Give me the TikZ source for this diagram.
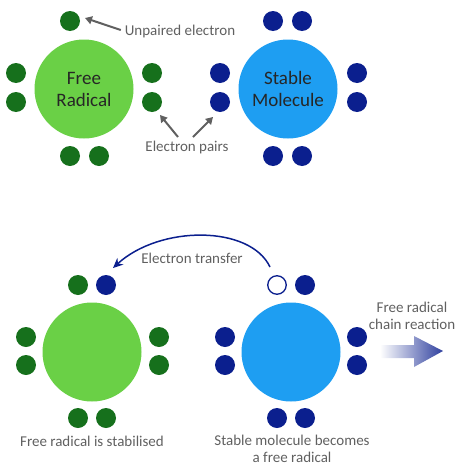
\documentclass[tikz,border=0pt]{standalone}
\usepackage{fontspec}
\setmainfont{Carlito}
\usetikzlibrary{arrows.meta}
\definecolor{dgreen}{HTML}{16701C}
\definecolor{lgreen}{HTML}{6AD046}
\definecolor{lblue}{HTML}{1E9EF2}
\definecolor{navy}{HTML}{0B1F8E}
\definecolor{txtgray}{HTML}{606060}
\tikzset{
  gdot/.style={circle,fill=dgreen,minimum size=20pt,inner sep=0pt},
  bdot/.style={circle,fill=navy,minimum size=20pt,inner sep=0pt},
  hdot/.style={circle,draw=navy,line width=1.3pt,fill=white,minimum size=18.5pt,inner sep=0pt},
  gbig/.style={circle,fill=lgreen,minimum size=99pt,inner sep=0pt},
  bbig/.style={circle,fill=lblue,minimum size=99pt,inner sep=0pt},
  intxt/.style={font=\fontsize{19}{22}\selectfont,align=center,text=black!85},
  lbl/.style={font=\fontsize{15}{17}\selectfont,text=txtgray,align=center,inner sep=1pt},
  garr/.style={draw=txtgray,line width=2pt,-{Triangle[length=7pt,width=8pt]}},
  narr/.style={draw=navy,line width=1.5pt,-{Stealth[length=10pt,width=9pt]}}
}
\begin{document}
\begin{tikzpicture}[x=1pt,y=-1pt]
\useasboundingbox (0,0) rectangle (474,466);
% ---------- top left: free radical
\node[gbig] (fr) at (84,89) {};
\node[intxt] at (fr) {Free\\Radical};
\node[gdot] (u1) at (70,21) {};
\node[gdot] (fl1) at (16,73) {};
\node[gdot] (fl2) at (16,102) {};
\node[gdot] (fr1) at (152,73) {};
\node[gdot] (fr2) at (152,102) {};
\node[gdot] (fb1) at (70,156) {};
\node[gdot] (fb2) at (99,156) {};
% ---------- top right: stable molecule
\node[bbig] (sm) at (288,89) {};
\node[intxt] at (sm) {Stable\\Molecule};
\node[bdot] (st1) at (273,21) {};
\node[bdot] (st2) at (302,21) {};
\node[bdot] (sl1) at (220,73) {};
\node[bdot] (sl2) at (220,102) {};
\node[bdot] (sr1) at (357,73) {};
\node[bdot] (sr2) at (357,102) {};
\node[bdot] (sb1) at (273,156) {};
\node[bdot] (sb2) at (302,156) {};
% labels top
\node[lbl] (unp) at (180,31) {Unpaired electron};
\coordinate (unptip) at (85,18);
\draw[garr,shorten <=3pt] (unp.west) -- (unptip);
\node[lbl] (pairs) at (187,147) {Electron pairs};
\coordinate (pt1) at (178,137);
\coordinate (pt2) at (193,137);
\coordinate (ptip1) at (160,115);
\coordinate (ptip2) at (213,117);
\draw[garr] (pt1) -- (ptip1);
\draw[garr] (pt2) -- (ptip2);
% ---------- bottom left: stabilised
\node[gbig] (fr2b) at (92,352) {};
\node[gdot] (bt1) at (78,285) {};
\node[bdot] (bt2) at (106,285) {};
\node[gdot] (bl1) at (26,337) {};
\node[gdot] (bl2) at (26,365) {};
\node[gdot] (br1) at (159,337) {};
\node[gdot] (br2) at (159,365) {};
\node[gdot] (bb1) at (78,418) {};
\node[gdot] (bb2) at (106,418) {};
\node[lbl] at (92,441) {Free radical is stabilised};
% ---------- bottom right: becomes radical
\node[bbig] (sm2) at (291,352) {};
\node[hdot] (ht) at (277,285) {};
\node[bdot] (ht2) at (305,285) {};
\node[bdot] (ml1) at (225,337) {};
\node[bdot] (ml2) at (225,365) {};
\node[bdot] (mr1) at (357,337) {};
\node[bdot] (mr2) at (357,365) {};
\node[bdot] (mb1) at (277,418) {};
\node[bdot] (mb2) at (305,418) {};
\node[lbl] at (292,449) {Stable molecule becomes\\a free radical};
% electron transfer arrow
\coordinate (etstart) at (270,267);
\coordinate (ettip) at (113,268);
\draw[narr] (etstart) .. controls (250,225) and (160,225) .. (ettip);
\node[lbl] at (192,258) {Electron transfer};
% chain reaction
\node[lbl] at (412,316) {Free radical\\chain reaction};
\shade[left color=white,right color=navy!85]
  (380,345) -- (414,345) -- (414,336) -- (443,351) -- (414,367) -- (414,358) -- (380,358) -- cycle;
\end{tikzpicture}
\end{document}
